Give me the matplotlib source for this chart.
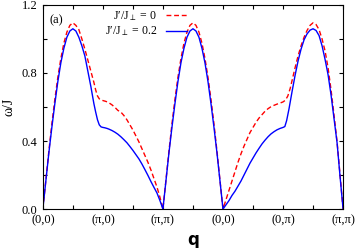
import numpy as np
import matplotlib
matplotlib.use('Agg')
import matplotlib.pyplot as plt
from matplotlib.ticker import MultipleLocator, FormatStrFormatter

plt.rcParams['font.family'] = 'Liberation Serif'
plt.rcParams['mathtext.fontset'] = 'stix'

# positions along the q path (one unit per segment)
q_red = [0.0, 0.05, 0.1, 0.15, 0.2, 0.25, 0.3, 0.35, 0.4, 0.45, 0.5,
         0.55, 0.6, 0.65, 0.7, 0.75, 0.8, 0.85, 0.88, 0.91, 0.94, 0.97, 1.0,
         1.05, 1.1, 1.15, 1.2, 1.25, 1.3, 1.35, 1.4, 1.45, 1.5, 1.55, 1.6,
         1.65, 1.7, 1.75, 1.8, 1.85, 1.9, 1.95, 2.0,
         2.05, 2.1, 2.15, 2.2, 2.25, 2.3, 2.35, 2.4, 2.45, 2.5,
         2.55, 2.6, 2.65, 2.7, 2.75, 2.8, 2.85, 2.9, 2.95, 3.0,
         3.05, 3.1, 3.15, 3.2, 3.25, 3.3, 3.35, 3.4, 3.45, 3.5,
         3.55, 3.6, 3.65, 3.7, 3.75, 3.8, 3.85, 3.9, 3.95, 4.0,
         4.04, 4.08, 4.12, 4.16, 4.2, 4.25, 4.3, 4.35, 4.4, 4.45, 4.5,
         4.55, 4.6, 4.65, 4.7, 4.75, 4.8, 4.85, 4.9, 4.95, 5.0]
w_red = [0.0, 0.17, 0.34, 0.5, 0.645, 0.775, 0.885, 0.975, 1.04, 1.08, 1.095,
         1.08, 1.055, 1.0, 0.94, 0.875, 0.81, 0.745, 0.70, 0.665, 0.648, 0.642, 0.638,
         0.633, 0.625, 0.613, 0.598, 0.58, 0.57, 0.55, 0.525, 0.495, 0.465, 0.43, 0.395,
         0.355, 0.315, 0.275, 0.23, 0.18, 0.13, 0.07, 0.0,
         0.17, 0.34, 0.5, 0.645, 0.775, 0.885, 0.975, 1.04, 1.08, 1.095,
         1.08, 1.04, 0.975, 0.885, 0.775, 0.645, 0.5, 0.34, 0.17, 0.0,
         0.055, 0.11, 0.165, 0.22, 0.275, 0.325, 0.37, 0.41, 0.45, 0.48,
         0.51, 0.535, 0.555, 0.575, 0.59, 0.602, 0.61, 0.617, 0.623, 0.63,
         0.64, 0.665, 0.71, 0.77, 0.83, 0.9, 0.96, 1.01, 1.05, 1.08, 1.095,
         1.085, 1.055, 1.0, 0.93, 0.83, 0.70, 0.55, 0.395, 0.2, 0.0]

q_blue = [0.0, 0.05, 0.1, 0.15, 0.2, 0.25, 0.3, 0.35, 0.4, 0.45, 0.5,
          0.55, 0.6, 0.65, 0.7, 0.75, 0.8, 0.85, 0.88, 0.91, 0.94, 0.97, 1.0,
          1.03, 1.07, 1.1, 1.15, 1.2, 1.25, 1.3, 1.35, 1.4, 1.45, 1.5, 1.55, 1.6,
          1.65, 1.7, 1.75, 1.8, 1.85, 1.9, 1.95, 2.0,
          2.05, 2.1, 2.15, 2.2, 2.25, 2.3, 2.35, 2.4, 2.45, 2.5,
          2.55, 2.6, 2.65, 2.7, 2.75, 2.8, 2.85, 2.9, 2.95, 3.0,
          3.05, 3.1, 3.15, 3.2, 3.25, 3.3, 3.35, 3.4, 3.45, 3.5,
          3.55, 3.6, 3.65, 3.7, 3.75, 3.8, 3.85, 3.9, 3.95, 4.0,
          4.03, 4.06, 4.1, 4.15, 4.2, 4.25, 4.3, 4.35, 4.4, 4.45, 4.5,
          4.55, 4.6, 4.65, 4.7, 4.75, 4.8, 4.85, 4.9, 4.95, 5.0]
w_blue = [0.0, 0.165, 0.33, 0.48, 0.62, 0.75, 0.86, 0.945, 1.01, 1.047, 1.06,
          1.047, 1.01, 0.96, 0.90, 0.81, 0.72, 0.62, 0.57, 0.525, 0.495, 0.483, 0.48,
          0.478, 0.474, 0.47, 0.462, 0.452, 0.44, 0.425, 0.408, 0.39, 0.368, 0.345, 0.32, 0.295,
          0.265, 0.232, 0.198, 0.162, 0.128, 0.095, 0.05, 0.0,
          0.165, 0.33, 0.48, 0.62, 0.75, 0.86, 0.945, 1.01, 1.047, 1.06,
          1.047, 1.01, 0.945, 0.86, 0.75, 0.62, 0.48, 0.33, 0.165, 0.0,
          0.025, 0.05, 0.08, 0.105, 0.135, 0.165, 0.2, 0.235, 0.27, 0.3,
          0.33, 0.357, 0.383, 0.405, 0.425, 0.442, 0.455, 0.466, 0.474, 0.48,
          0.485, 0.52, 0.59, 0.69, 0.785, 0.87, 0.94, 0.995, 1.03, 1.052, 1.06,
          1.05, 1.02, 0.96, 0.88, 0.79, 0.67, 0.53, 0.39, 0.19, 0.0]

xtick_labels = ['(0,0)', '(π,0)', '(π,π)', '(0,0)', '(0,π)', '(π,π)']

fig = plt.figure(figsize=(3.57, 2.48), dpi=100)
ax = fig.add_axes([0.12, 0.157, 0.841, 0.823])

ax.plot(q_red, w_red, color='#ff0000', ls=(0, (3.5, 2)), lw=1.0, label="J′/J$_{\\perp}$ = 0")
ax.plot(q_blue, w_blue, color='#0000ff', lw=1.0, label="J′/J$_{\\perp}$ = 0.2")

ax.set_xlim(0, 5)
ax.set_ylim(0, 1.2)
ax.set_xticks(range(6))
ax.set_xticklabels(xtick_labels)
ax.xaxis.set_minor_locator(MultipleLocator(0.5))
ax.yaxis.set_major_locator(MultipleLocator(0.4))
ax.yaxis.set_minor_locator(MultipleLocator(0.2))
ax.yaxis.set_major_formatter(FormatStrFormatter('%.1f'))
ax.tick_params(labelsize=9, pad=4)
ax.tick_params(which='both', direction='in', top=True, right=True, length=3, width=0.8)

ax.set_ylabel('ω/J', fontsize=10, labelpad=4)
ax.set_xlabel('q', fontsize=12, fontweight='bold', family='DejaVu Sans', labelpad=3)

ax.text(0.022, 0.955, '(a)', transform=ax.transAxes, fontsize=9, va='top')
ax.legend(loc='upper left', bbox_to_anchor=(0.17, 1.03), frameon=False, markerfirst=False,
          fontsize=8.5, handlelength=1.8, handletextpad=0.8, labelspacing=0.15)

for s in ax.spines.values():
    s.set_linewidth(0.8)

fig.savefig('out.png', dpi=100)
